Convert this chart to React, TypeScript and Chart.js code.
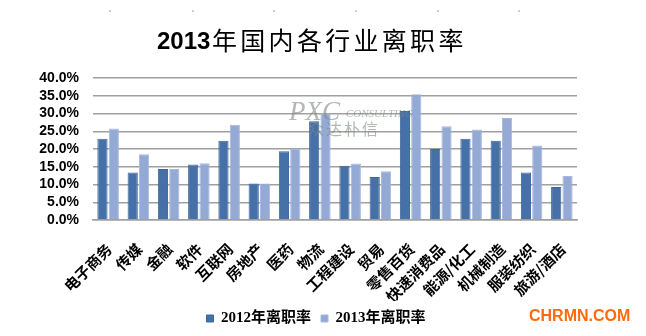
import React, { useEffect, useRef } from "react";
import { Chart, registerables } from "chart.js";

Chart.register(...registerables);

const categories = [
  "电子商务", "传媒", "金融", "软件", "互联网", "房地产", "医药", "物流", "工程建设",
  "贸易", "零售百货", "快速消费品", "能源/化工", "机械制造", "服装纺织", "旅游/酒店",
];
const rate2012 = [22.9, 13.4, 14.4, 15.6, 22.3, 10.3, 19.4, 27.8, 15.3, 12.1, 30.7, 20.0, 22.9, 22.3, 13.4, 9.3];
const rate2013 = [25.8, 18.5, 14.4, 16.0, 26.8, 10.3, 20.0, 30.0, 15.9, 13.7, 35.4, 26.4, 25.5, 28.7, 21.0, 12.4];
const seriesNames = ["2012年离职率", "2013年离职率"];
const yMin = 0;
const yMax = 40;
const yStep = 5;
const titleDigits = "2013";
const titleRest = "年国内各行业离职率";
const watermarkLatin = "PXC";
const watermarkSmall = "CONSULTING";
const watermarkCn = "众达朴信";
const siteMark = "CHRMN.COM";

const decorPlugin = {
  id: "decor",
  afterDraw(chart: any) {
    const ctx = chart.ctx as CanvasRenderingContext2D;
    ctx.save();
    ctx.fillStyle = "#C9CBE2";
    [109, 192, 273, 355, 437, 518].forEach((x) => ctx.fillRect(x, 10, 2, 2));
    ctx.fillStyle = "#000";
    ctx.textBaseline = "alphabetic";
    ctx.textAlign = "left";
    ctx.font = "bold 24px 'Liberation Sans', Arial, sans-serif";
    ctx.fillText(titleDigits, 157, 49);
    ctx.font = "25px 'Noto Sans CJK SC', sans-serif";
    let x = 212;
    for (const ch of titleRest) {
      ctx.fillText(ch, x, 50);
      x += 28.3;
    }
    ctx.fillStyle = "#FF6A10";
    ctx.font = "bold 16px 'Liberation Sans', Arial, sans-serif";
    ctx.fillText(siteMark, 529, 321);
    ctx.restore();
  },
  afterDatasetsDraw(chart: any) {
    const ctx = chart.ctx as CanvasRenderingContext2D;
    ctx.save();
    ctx.globalAlpha = 0.6;
    ctx.fillStyle = "#7D8C7E";
    ctx.textAlign = "left";
    ctx.textBaseline = "alphabetic";
    ctx.font = "italic 27px 'Liberation Serif', serif";
    ctx.fillText(watermarkLatin, 289, 120);
    ctx.font = "italic 11px 'Liberation Serif', serif";
    ctx.fillText(watermarkSmall, 346, 117);
    ctx.font = "16px 'Noto Sans CJK SC', sans-serif";
    let x = 308;
    for (const ch of watermarkCn) {
      ctx.fillText(ch, x, 135);
      x += 18;
    }
    ctx.restore();
  },
};

export default function App() {
  const ref = useRef<HTMLCanvasElement | null>(null);
  useEffect(() => {
    if (!ref.current) return;
    const chart = new Chart(ref.current, {
      type: "bar",
      data: {
        labels: categories,
        datasets: [
          {
            label: seriesNames[0],
            data: rate2012,
            backgroundColor: "#4571A8",
            borderColor: "#3E669A",
            borderWidth: 1,
            categoryPercentage: 0.75,
            barPercentage: 0.9,
          },
          {
            label: seriesNames[1],
            data: rate2013,
            backgroundColor: "#94A9D4",
            borderColor: "#A6B8DE",
            borderWidth: 1,
            categoryPercentage: 0.75,
            barPercentage: 0.9,
          },
        ],
      },
      options: {
        animation: false,
        responsive: false,
        maintainAspectRatio: false,
        layout: { padding: { left: 0, right: 14, top: 78, bottom: 0 } },
        plugins: {
          title: { display: false },
          tooltip: { enabled: false },
          legend: {
            position: "bottom",
            labels: {
              boxWidth: 7,
              boxHeight: 7,
              padding: 10,
              color: "#000",
              font: { family: "'Liberation Serif', 'Noto Sans CJK SC', serif", size: 15, weight: "bold" },
            },
          },
        },
        scales: {
          x: {
            grid: { display: false },
            border: { display: true, color: "#A0A0A0", width: 1.5 },
            ticks: {
              autoSkip: false,
              maxRotation: 45,
              minRotation: 45,
              padding: 12,
              labelOffset: 1,
              color: "#000",
              font: { family: "'Noto Sans CJK SC', sans-serif", size: 15, weight: "bold" },
            },
            afterFit(scale: any) {
              scale.height = 81;
            },
          },
          y: {
            min: yMin,
            max: yMax,
            grid: { color: "#A0A0A0", lineWidth: 1.5, drawTicks: false },
            border: { display: false },
            ticks: {
              stepSize: yStep,
              autoSkip: false,
              padding: 14,
              color: "#000",
              font: { family: "'Liberation Sans', Arial, sans-serif", size: 14, weight: "bold" },
              callback: (v: any) => Number(v).toFixed(1) + "%",
            },
            afterFit(scale: any) {
              scale.width = 93;
            },
          },
          y2: {
            type: "linear",
            position: "right",
            display: true,
            grid: { display: false, drawTicks: false },
            border: { display: false },
            ticks: { display: false },
            afterFit(scale: any) {
              scale.width = 55;
            },
          },
        },
      },
      plugins: [decorPlugin],
    });
    return () => chart.destroy();
  }, []);
  return (
    <div style={{ position: "fixed", left: 0, top: 0, width: 646, height: 336, background: "#fff" }}>
      <canvas ref={ref} width={646} height={336} style={{ width: 646, height: 336 }} />
    </div>
  );
}
